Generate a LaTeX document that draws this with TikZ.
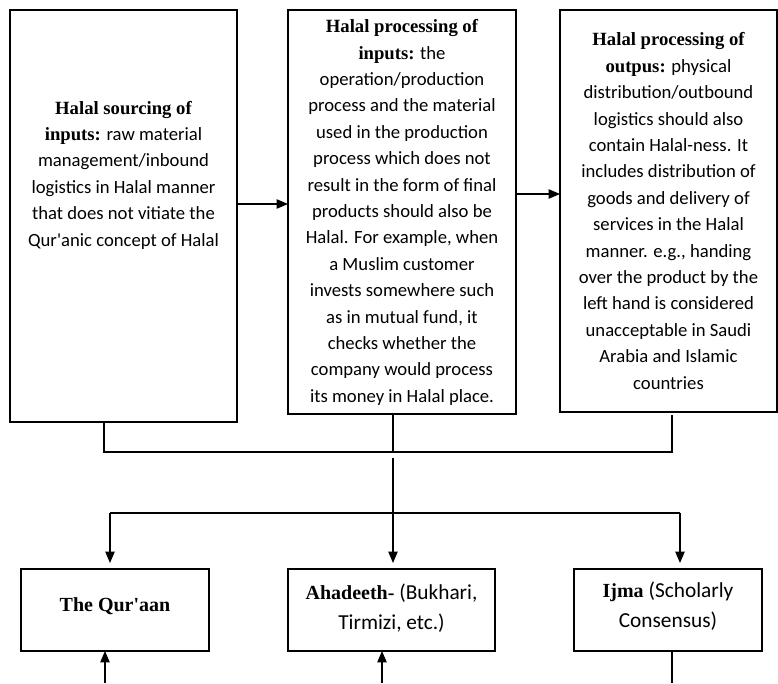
\documentclass[tikz,border=0pt]{standalone}
\usepackage{fontspec}
\setmainfont{Liberation Serif}
\newfontfamily\calfont{Carlito}
\usetikzlibrary{arrows.meta}
\newcommand\hdr[1]{{\rmfamily\bfseries #1}}
\newcommand\hdrb[1]{{\rmfamily\bfseries\fontsize{15}{22.5}\selectfont #1}}
\begin{document}
\begin{tikzpicture}[x=0.75pt,y=-0.75pt,
  box/.style={draw, line width=0.9pt, inner sep=0pt, outer sep=0pt, anchor=north west},
  txt/.style={align=center, inner sep=0pt, font=\calfont\fontsize{14}{19.8}\selectfont},
  txtb/.style={align=center, inner sep=0pt, font=\calfont\fontsize{16}{22.5}\selectfont},
  ln/.style={line width=0.9pt},
  arr/.style={ln, -{Triangle[length=8.5pt,width=7pt]}}]
\useasboundingbox (0,0) rectangle (778,683);
% top boxes
\node[box, minimum width=227*0.75pt, minimum height=412*0.75pt] (b1) at (10,10) {};
\node[box, minimum width=228*0.75pt, minimum height=404*0.75pt] (b2) at (288,10) {};
\node[box, minimum width=217*0.75pt, minimum height=402*0.75pt] (b3) at (560,10) {};
% bottom boxes
\node[box, minimum width=188*0.75pt, minimum height=82*0.75pt] (q) at (21,569) {};
\node[box, minimum width=207*0.75pt, minimum height=82*0.75pt] (a) at (288,569) {};
\node[box, minimum width=188*0.75pt, minimum height=82*0.75pt] (ij) at (574,569) {};
% texts
\node[txt] (t1) at (123.5,175) {\hdr{Halal sourcing of}\\ \hdr{inputs:} raw material\\ management/inbound\\ logistics in Halal manner\\ that does not vitiate the\\ Qur\textquotesingle anic concept of Halal};
\node[txt] (t2) at (402,212.5) {\hdr{Halal processing of}\\ \hdr{inputs:} the\\ operation/production\\ process and the material\\ used in the production\\ process which does not\\ result in the form of final\\ products should also be\\ Halal. For example, when\\ a Muslim customer\\ invests somewhere such\\ as in mutual fund, it\\ checks whether the\\ company would process\\ its money in Halal place.};
\node[txt] (t3) at (668.5,211) {\hdr{Halal processing of}\\ \hdr{outpus:} physical\\ distribution/outbound\\ logistics should also\\ contain Halal-ness. It\\ includes distribution of\\ goods and delivery of\\ services in the Halal\\ manner. e.g., handing\\ over the product by the\\ left hand is considered\\ unacceptable in Saudi\\ Arabia and Islamic\\ countries};
\node[txtb] (tq) at (115,606) {\hdrb{The Qur\textquotesingle aan}};
\node[txtb] (ta) at (391.5,608) {\hdrb{Ahadeeth-} (Bukhari,\\ Tirmizi, etc.)};
\node[txtb] (tij) at (668,606) {\hdrb{Ijma} (Scholarly\\ Consensus)};
% horizontal arrows between top boxes
\coordinate (r1) at (0,204);
\coordinate (r2) at (0,194);
\draw[arr] (b1.east |- r1) -- (b2.west |- r1);
\draw[arr] (b2.east |- r2) -- (b3.west |- r2);
% collector
\coordinate (h1) at (104,452);
\coordinate (h2) at (393,452);
\coordinate (h3) at (672,452);
\coordinate (s3) at (672,415);
\draw[ln] (b1.south -| h1) -- (h1) -- (h3) -- (s3);
\draw[ln] (b2.south -| h2) -- (h2);
% distributor
\coordinate (v2) at (393,458);
\coordinate (k1) at (110,513);
\coordinate (k2) at (680,513);
\draw[arr, shorten >=4.5pt] (v2) -- (a.north -| v2);
\draw[ln] (k1) -- (k2);
\draw[arr, shorten >=4.5pt] (k1) -- (q.north -| k1);
\draw[arr, shorten >=4.5pt] (k2) -- (ij.north -| k2);
% bottom connectors
\coordinate (e1) at (105,683);
\coordinate (e2) at (382,683);
\coordinate (e3) at (672,683);
\draw[arr] (e1) -- (q.south -| e1);
\draw[arr] (e2) -- (a.south -| e2);
\draw[ln] (ij.south -| e3) -- (e3);
\end{tikzpicture}
\end{document}
